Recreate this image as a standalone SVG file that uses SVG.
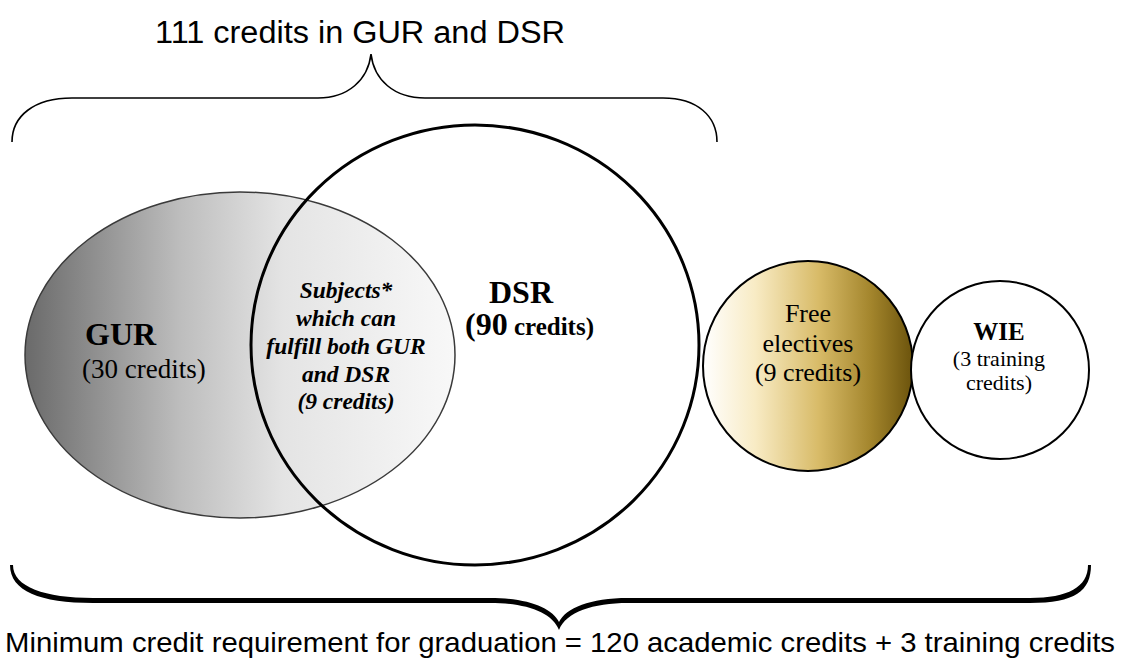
<svg xmlns="http://www.w3.org/2000/svg" width="1121" height="664" viewBox="0 0 1121 664">
<style>
.sans{font-family:"Liberation Sans",Arial,sans-serif;fill:#000}
.serif{font-family:"Liberation Serif","Times New Roman",serif;fill:#000}
.b{font-weight:bold}
.bi{font-weight:bold;font-style:italic}
.mid{text-anchor:middle}
</style>
<defs>
<linearGradient id="gurGrad" x1="0" y1="0" x2="1" y2="0">
<stop offset="0" stop-color="#6a6a6a"/>
<stop offset="0.36" stop-color="#bdbdbd"/>
<stop offset="0.6" stop-color="#e4e4e4"/>
<stop offset="1" stop-color="#f8f8f8"/>
</linearGradient>
<linearGradient id="freeGrad" x1="0" y1="0" x2="1" y2="0">
<stop offset="0" stop-color="#ffffff"/>
<stop offset="0.25" stop-color="#f8ebc4"/>
<stop offset="0.55" stop-color="#d8bb68"/>
<stop offset="0.8" stop-color="#a3852c"/>
<stop offset="1" stop-color="#6b530c"/>
</linearGradient>
</defs>
<rect width="1121" height="664" fill="#ffffff"/>

<g id="top-brace">
<path d="M12,142 C12,116 34,98 72,98 L318,98 C348,98 368,80 371,54 C374,80 394,98 425,98 L663,98 C697,98 717,116 717,142" fill="none" stroke="#000" stroke-width="1.6"/>
<text class="sans" x="360" y="43" font-size="31" textLength="410" lengthAdjust="spacingAndGlyphs" text-anchor="middle">111 credits in GUR and DSR</text>
</g>

<g id="gur">
<ellipse cx="240" cy="355" rx="215" ry="163" fill="url(#gurGrad)" stroke="#3a3a3a" stroke-width="1.5"/>
<text class="serif b" x="85" y="345" font-size="32">GUR</text>
<text class="serif" x="82" y="378" font-size="27">(30 credits)</text>
</g>

<g id="overlap">
<text class="serif bi mid" x="346" y="298" font-size="23.5">Subjects*</text>
<text class="serif bi mid" x="346" y="326" font-size="23.5">which can</text>
<text class="serif bi mid" x="346" y="354" font-size="23.5">fulfill both GUR</text>
<text class="serif bi mid" x="346" y="382" font-size="23.5">and DSR</text>
<text class="serif bi mid" x="346" y="409" font-size="23.5">(9 credits)</text>
</g>

<g id="dsr">
<ellipse cx="475" cy="345" rx="224" ry="220" fill="none" stroke="#000" stroke-width="3"/>
<text class="serif b" x="489" y="303" font-size="32">DSR</text>
<text class="serif b" x="465" y="335"><tspan font-size="32">(90</tspan><tspan font-size="25"> credits)</tspan></text>
</g>

<g id="free-electives">
<circle cx="808" cy="366" r="105" fill="url(#freeGrad)" stroke="#000" stroke-width="2"/>
<text class="serif mid" x="808" y="322" font-size="26">Free</text>
<text class="serif mid" x="808" y="352" font-size="26">electives</text>
<text class="serif mid" x="808" y="381" font-size="26">(9 credits)</text>
</g>

<g id="wie">
<circle cx="1000" cy="370" r="89" fill="#ffffff" stroke="#000" stroke-width="2"/>
<text class="serif b mid" x="999" y="340" font-size="25">WIE</text>
<text class="serif mid" x="999" y="366" font-size="22">(3 training</text>
<text class="serif mid" x="999" y="390" font-size="22">credits)</text>
</g>

<g id="bottom-brace">
<path d="M10,565 C10,591 40,603 93,603 L490,603 C525,603 552,612 559,630 C566,612 593,603 628,603 L1030,603 C1075,603 1091,591 1091,565 L1088,565 C1088,587 1068,598 1030,598 L628,598 C590,598 566,608 559,622 C552,608 528,598 490,598 L93,598 C45,598 13,587 13,565 Z" fill="#000"/>
<text class="sans" x="560" y="652" font-size="28" textLength="1110" lengthAdjust="spacingAndGlyphs" text-anchor="middle">Minimum credit requirement for graduation = 120 academic credits + 3 training credits</text>
</g>
</svg>
